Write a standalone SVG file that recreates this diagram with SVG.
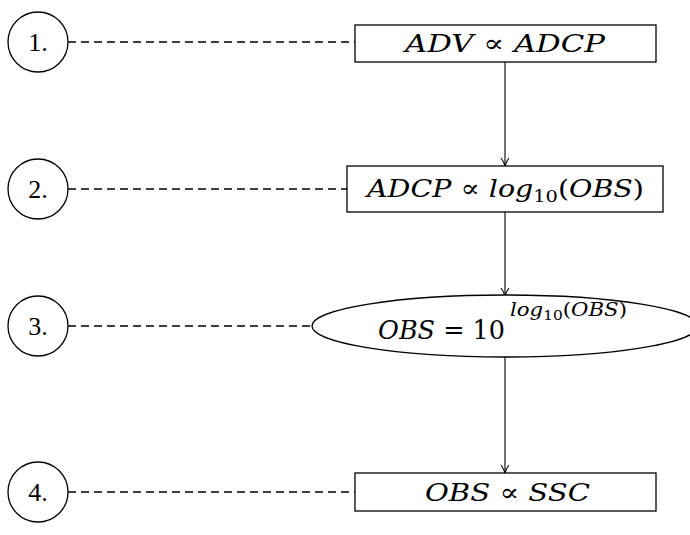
<svg xmlns="http://www.w3.org/2000/svg" width="690" height="535" viewBox="0 0 690 535">
<defs>
<style>
.node{fill:#fff;stroke:#000;stroke-width:1.3}
.num{font-family:"Liberation Serif","DejaVu Serif",serif;font-size:26px;text-anchor:middle}
.math{font-family:"DejaVu Serif","Liberation Serif",serif;font-size:25px;font-style:italic}
.up{font-style:normal}
.sub{font-size:17px}
.dash{stroke:#000;stroke-width:1.3;stroke-dasharray:8,5;fill:none}
.arrow{stroke:#000;stroke-width:1.1;fill:none;marker-end:url(#arr)}
</style>
<marker id="arr" viewBox="0 0 10 10" refX="9" refY="5" markerWidth="10" markerHeight="10" markerUnits="userSpaceOnUse" orient="auto">
<path d="M1,1 Q5,4 9,5 Q5,6 1,9" fill="none" stroke="#000" stroke-width="1.1"/>
</marker>
</defs>
<rect width="690" height="535" fill="#fff"/>
<g id="connectors">
<line class="dash" x1="68" y1="42" x2="355" y2="42"/>
<line class="dash" x1="68" y1="189" x2="347" y2="189"/>
<line class="dash" x1="68" y1="326" x2="312" y2="326"/>
<line class="dash" x1="68" y1="492" x2="355" y2="492"/>
<line class="arrow" x1="505" y1="62" x2="505" y2="166"/>
<line class="arrow" x1="505" y1="212" x2="505" y2="296"/>
<line class="arrow" x1="505" y1="357" x2="505" y2="473"/>
</g>
<g id="step1">
<circle class="node" cx="38" cy="42" r="30"/>
<text class="num" x="38" y="51">1.</text>
</g>
<g id="step2">
<circle class="node" cx="38" cy="189" r="30"/>
<text class="num" x="38" y="198">2.</text>
</g>
<g id="step3">
<circle class="node" cx="38" cy="326" r="30"/>
<text class="num" x="38" y="335">3.</text>
</g>
<g id="step4">
<circle class="node" cx="38" cy="492" r="30"/>
<text class="num" x="38" y="501">4.</text>
</g>
<g id="box1">
<rect class="node" x="355" y="25" width="301" height="37"/>
<text class="math" x="405" y="52" textLength="200" lengthAdjust="spacingAndGlyphs">ADV <tspan class="up">∝</tspan> ADCP</text>
</g>
<g id="box2">
<rect class="node" x="347" y="166" width="316" height="46"/>
<text class="math" x="367" y="197" textLength="277" lengthAdjust="spacingAndGlyphs">ADCP <tspan class="up">∝</tspan> log<tspan class="up sub" dy="5">10</tspan><tspan class="up" dy="-5">(</tspan>OBS<tspan class="up">)</tspan></text>
</g>
<g id="ellipse3">
<ellipse class="node" cx="505" cy="326" rx="193" ry="31"/>
<text class="math" x="378" y="339" style="font-size:26px" textLength="127" lengthAdjust="spacingAndGlyphs">OBS <tspan class="up">= 10</tspan></text>
<text class="math" x="510" y="316" style="font-size:18px" textLength="117" lengthAdjust="spacingAndGlyphs">log<tspan class="up" style="font-size:13px" dy="4">10</tspan><tspan class="up" dy="-4">(</tspan>OBS<tspan class="up">)</tspan></text>
</g>
<g id="box4">
<rect class="node" x="355" y="473" width="301" height="38"/>
<text class="math" x="425" y="501" textLength="165" lengthAdjust="spacingAndGlyphs">OBS <tspan class="up">∝</tspan> SSC</text>
</g>
</svg>
